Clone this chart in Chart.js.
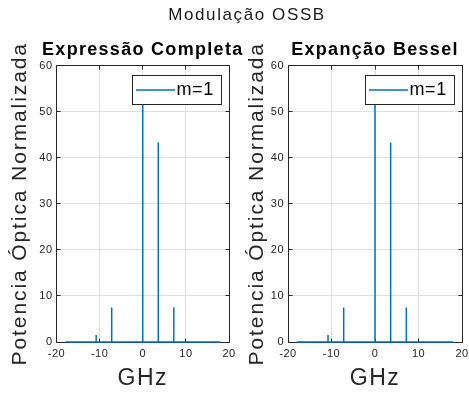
<!DOCTYPE html>
<html><head><meta charset="utf-8">
<script src="https://cdn.jsdelivr.net/npm/chart.js@4.4.1/dist/chart.umd.min.js"></script>
<style>
html,body{margin:0;padding:0;background:#fff;}
#wrap{position:relative;width:469px;height:394px;overflow:hidden;background:#fff;}
#main{position:absolute;top:5.6px;left:247px;transform:translateX(-50%);font:17px/17px "Liberation Sans",Arial,sans-serif;letter-spacing:1.6px;color:#1a1a1a;white-space:nowrap;z-index:2;}
canvas{position:absolute;top:0;left:0;}
</style></head><body>
<div id="wrap">
<canvas id="c1" width="469" height="394"></canvas>
<canvas id="c2" width="469" height="394"></canvas>
<div id="main"></div>
</div>
<script>
// ---- data ----
const mainTitle = 'Modulação OSSB';
const panelTitles = ['Expressão Completa', 'Expanção Bessel'];
const seriesLabel = 'm=1';
const freqGHz = [-10.8, -7.2, 0, 3.6, 7.2];
const powerCompleta = [1.5, 7.5, 55, 43.3, 7.5];
const powerBessel = [1.5, 7.5, 55, 43.3, 7.5];
const spanGHz = [-18, 18];
const xTicks = [-20, -10, 0, 10, 20];
const yTicks = [0, 10, 20, 30, 40, 50, 60];
const xTitle = 'GHz';
const yTitle = 'Potencia Óptica Normalizada';

document.getElementById('main').textContent = mainTitle;

const FONT = '"Liberation Sans", Arial, Helvetica, sans-serif';
const INK = '#262626';

function stemPoints(freqs, powers) {
  const pts = [{x: spanGHz[0], y: 0}];
  freqs.forEach((f, i) => { pts.push({x: f, y: 0}, {x: f, y: powers[i]}, {x: f, y: 0}); });
  pts.push({x: spanGHz[1], y: 0});
  return pts;
}

function spaced(obj, name, spacing, ex, ey) {
  if (obj[name] && obj[name].__spaced) return;
  const orig = obj[name];
  const f = function(...args) {
    const ctx = this.ctx;
    const prev = ctx.letterSpacing;
    ctx.letterSpacing = spacing;
    const t = this.top, b = this.bottom, l = this.left, r = this.right;
    this.top -= ey; this.bottom += ey; this.left -= ex; this.right += ex;
    try { return orig.apply(this, args); }
    finally {
      this.top = t; this.bottom = b; this.left = l; this.right = r;
      ctx.letterSpacing = prev;
    }
  };
  f.__spaced = true;
  obj[name] = f;
}

const textSpacing = {
  id: 'textSpacing',
  afterLayout(chart) {
    const x = chart.scales.x, y = chart.scales.y;
    spaced(x, 'drawLabels', '0.5px', 0, 0);
    spaced(y, 'drawLabels', '0.5px', 0, 0);
    spaced(x, 'drawTitle', '1.5px', 0, 0);
    spaced(y, 'drawTitle', '1.9px', 0, 200);
    if (chart.titleBlock) spaced(chart.titleBlock, 'draw', '1.3px', 60, 0);
  }
};

const al = v => Math.round(v - 0.5) + 0.5;

const matlabAxes = {
  id: 'matlabAxes',
  beforeDatasetsDraw(chart) {
    const {ctx, chartArea: a, scales: {x, y}} = chart;
    const L = al(a.left), R = al(a.right), T = al(a.top), B = al(a.bottom);
    const tl = 4;
    ctx.save();
    ctx.strokeStyle = INK;
    ctx.lineWidth = 1;
    ctx.beginPath();
    ctx.rect(L, T, R - L, B - T);
    xTicks.forEach(v => {
      const p = al(x.getPixelForValue(v));
      ctx.moveTo(p, B); ctx.lineTo(p, B - tl);
      ctx.moveTo(p, T); ctx.lineTo(p, T + tl);
    });
    yTicks.forEach(v => {
      const p = al(y.getPixelForValue(v));
      ctx.moveTo(L, p); ctx.lineTo(L + tl, p);
      ctx.moveTo(R, p); ctx.lineTo(R - tl, p);
    });
    ctx.stroke();
    ctx.restore();
  }
};

const insetLegend = {
  id: 'insetLegend',
  afterDatasetsDraw(chart) {
    const {ctx, chartArea: a} = chart;
    const ds = chart.data.datasets[0];
    const w = 89, h = 29;
    const bx = al(a.right - 7.3 - w), by = al(a.top + 9.5);
    ctx.save();
    ctx.fillStyle = '#fff';
    ctx.fillRect(bx, by, w, h);
    ctx.strokeStyle = INK;
    ctx.lineWidth = 1;
    ctx.strokeRect(bx, by, w, h);
    ctx.strokeStyle = ds.borderColor;
    ctx.lineWidth = ds.borderWidth;
    ctx.beginPath();
    ctx.moveTo(bx + 3.5, by + h / 2);
    ctx.lineTo(bx + 42.5, by + h / 2);
    ctx.stroke();
    ctx.letterSpacing = '0.6px';
    ctx.font = '18px ' + FONT;
    ctx.fillStyle = '#000';
    ctx.textBaseline = 'middle';
    ctx.textAlign = 'left';
    ctx.fillText(ds.label, bx + 44, by + h / 2 + 0.5);
    ctx.restore();
  }
};

function makeChart(id, title, powers, padLeft, yAxisWidth, padRight) {
  return new Chart(document.getElementById(id), {
    type: 'line',
    data: {datasets: [{
      label: seriesLabel,
      data: stemPoints(freqGHz, powers),
      borderColor: '#0072BD',
      borderWidth: 1.5,
      pointRadius: 0,
      tension: 0,
      fill: false,
      clip: 3
    }]},
    options: {
      responsive: false,
      animation: false,
      devicePixelRatio: 1,
      parsing: false,
      layout: {padding: {left: padLeft, right: padRight, top: 0, bottom: 0}},
      plugins: {
        legend: {display: false},
        tooltip: {enabled: false},
        title: {
          display: true, text: title, fullSize: false, color: '#000',
          font: {family: FONT, size: 18, weight: 'bold'},
          padding: {top: 39.4, bottom: 4.5}
        }
      },
      scales: {
        x: {
          type: 'linear', min: -20, max: 20,
          afterBuildTicks: s => { s.ticks = xTicks.map(v => ({value: v})); },
          afterFit: s => { s.height = 52; s.paddingLeft = 0; s.paddingRight = 0; },
          grid: {color: '#dfdfdf', drawTicks: false, lineWidth: 1},
          border: {display: false},
          ticks: {color: INK, font: {family: FONT, size: 11}, padding: 5.4, maxRotation: 0, autoSkip: false},
          title: {display: true, text: xTitle, color: INK, font: {family: FONT, size: 23}, padding: {top: 0, bottom: 1.9}}
        },
        y: {
          type: 'linear', min: 0, max: 60,
          afterBuildTicks: s => { s.ticks = yTicks.map(v => ({value: v})); },
          afterFit: s => { s.width = yAxisWidth; },
          grid: {color: '#dfdfdf', drawTicks: false, lineWidth: 1},
          border: {display: false},
          ticks: {color: INK, font: {family: FONT, size: 11}, padding: 4, autoSkip: false},
          title: {display: true, text: yTitle, color: INK, font: {family: FONT, size: 21}, padding: {top: 7.4, bottom: 0}}
        }
      }
    },
    plugins: [textSpacing, matlabAxes, insetLegend]
  });
}

makeChart('c1', panelTitles[0], powerCompleta, 0, 56.5, 240);
makeChart('c2', panelTitles[1], powerBessel, 237, 51, 7);
</script>
</body></html>
